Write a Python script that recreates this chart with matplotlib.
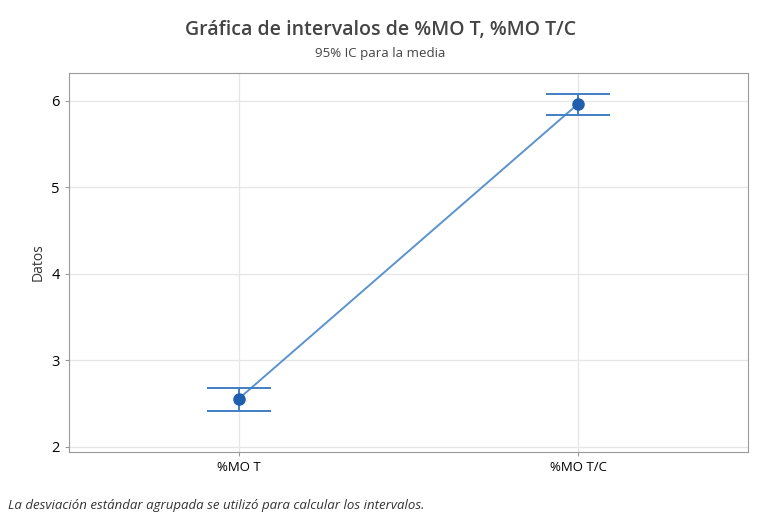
import matplotlib
matplotlib.use("Agg")
import matplotlib.pyplot as plt

plt.rcParams["font.family"] = ["Open Sans", "DejaVu Sans"]

categories = ["%MO T", "%MO T/C"]
means = [2.555, 5.965]
ci_low = [2.415, 5.83]
ci_high = [2.68, 6.08]

x = [1, 2]
fig = plt.figure(figsize=(7.61, 5.18), dpi=100)
ax = fig.add_axes([69 / 761, 1 - 452 / 518, 679 / 761, 379 / 518])

ax.plot(x, means, color="#5b93cf", lw=1.4, zorder=2)
err = [[m - l for m, l in zip(means, ci_low)], [h - m for m, h in zip(means, ci_high)]]
ax.errorbar(x, means, yerr=err, fmt="none", ecolor="#3f7fc4", elinewidth=1.4,
            capsize=23, capthick=1.4, zorder=3)
ax.plot(x, means, "o", color="#1f5fad", ms=8, zorder=4)

ax.set_xlim(0.5, 2.5)
ax.set_ylim(1.94, 6.32)
ax.set_xticks(x)
ax.set_xticklabels(categories, fontsize=9.5)
ax.set_yticks([2, 3, 4, 5, 6])
ax.tick_params(axis="y", labelsize=10.5, length=3, color="#999999")
ax.tick_params(axis="x", length=3, color="#999999")
ax.set_ylabel("Datos", fontsize=10, color="#333333")
ax.grid(color="#e6e6e6", lw=0.9, zorder=0)
ax.set_axisbelow(True)
for sp in ax.spines.values():
    sp.set_color("#9a9a9a")

fig.text(0.5, 1 - 30 / 518, "Gráfica de intervalos de %MO T, %MO T/C", ha="center", va="center",
         fontsize=14, fontweight="semibold", color="#444444")
fig.text(0.5, 1 - 53 / 518, "95% IC para la media", ha="center", va="center",
         fontsize=9.5, color="#444444")
fig.text(8 / 761, 1 - 505 / 518, "La desviación estándar agrupada se utilizó para calcular los intervalos.",
         ha="left", va="center", fontsize=9.5, style="italic", color="#333333")

fig.savefig("out.png", dpi=100, facecolor="white")
